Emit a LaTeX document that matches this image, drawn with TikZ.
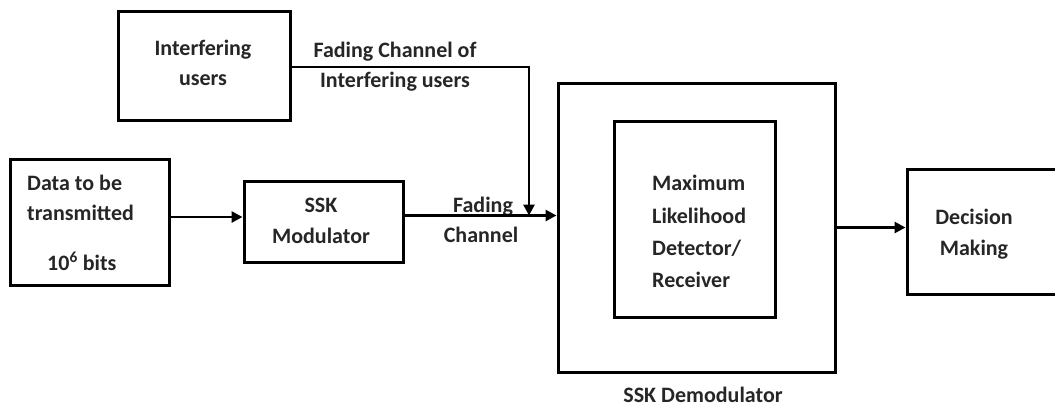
\documentclass[tikz,border=0pt]{standalone}
\usepackage{fontspec}
\setmainfont{Carlito}
\usetikzlibrary{arrows.meta}
\begin{document}
\begin{tikzpicture}[x=1pt,y=-1pt,
  box/.style={draw=black,line width=3pt,minimum width=#1,inner sep=0pt},
  lbl/.style={font=\fontsize{22}{26}\selectfont\bfseries,text=black!85,inner sep=0pt,anchor=base},
  lbll/.style={lbl,anchor=base west},
  conn/.style={draw=black,line width=2.8pt},
  arr/.style={conn,-{Triangle[length=11pt,width=11pt]}}]
\useasboundingbox (0,0) rectangle (1055,407);
\clip (0,0) rectangle (1055,407);
% boxes
\node[box=159pt,minimum height=126pt] (data) at (89.5,222) {};
\node[box=159pt,minimum height=81pt] (ssk) at (323.5,221.5) {};
\node[box=172pt,minimum height=109pt] (intf) at (204,65.5) {};
\node[box=277pt,minimum height=289pt] (outer) at (696.5,227.5) {};
\node[box=161pt,minimum height=196pt] (inner) at (694.5,219) {};
\node[box=200pt,minimum height=125pt] (dec) at (1007,231.5) {};
% texts
\node[lbll] (t1) at (27,190) {Data to be};
\node[lbll] (t2) at (27,220) {transmitted};
\node[lbll] (t3) at (47,270) {10\textsuperscript{6} bits};
\node[lbl] (t4) at (321,212) {SSK};
\node[lbl] (t5) at (321,243) {Modulator};
\node[lbl] (t6) at (203,55) {Interfering};
\node[lbl] (t7) at (203,85) {users};
\node[lbl] (t8) at (395,57) {Fading Channel of};
\node[lbl] (t9) at (395,87) {Interfering users};
\node[lbl] (t10) at (483,212) {Fading};
\node[lbl] (t11) at (481,242) {Channel};
\node[lbll] (t12) at (652,190) {Maximum};
\node[lbll] (t13) at (652,223) {Likelihood};
\node[lbll] (t14) at (652,255) {Detector/};
\node[lbll] (t15) at (652,287) {Receiver};
\node[lbl] (t16) at (974,224) {Decision};
\node[lbl] (t17) at (974,255) {Making};
\node[lbl] (t18) at (703,402) {SSK Demodulator};
% connectors
\coordinate (turn) at (529,67);
\coordinate (dataout) at ([yshift=5pt]data.east);
\coordinate (sskout) at ([yshift=6pt]ssk.east);
\coordinate (join) at (turn |- sskout);
\draw[arr] (dataout) -- (ssk.west |- dataout);
\draw[arr] (sskout) -- (outer.west |- sskout);
\draw[arr] (intf.east |- turn) -- (turn) -- (join);
\draw[arr] (outer.east) -- (dec.west |- outer.east);
\end{tikzpicture}
\end{document}
